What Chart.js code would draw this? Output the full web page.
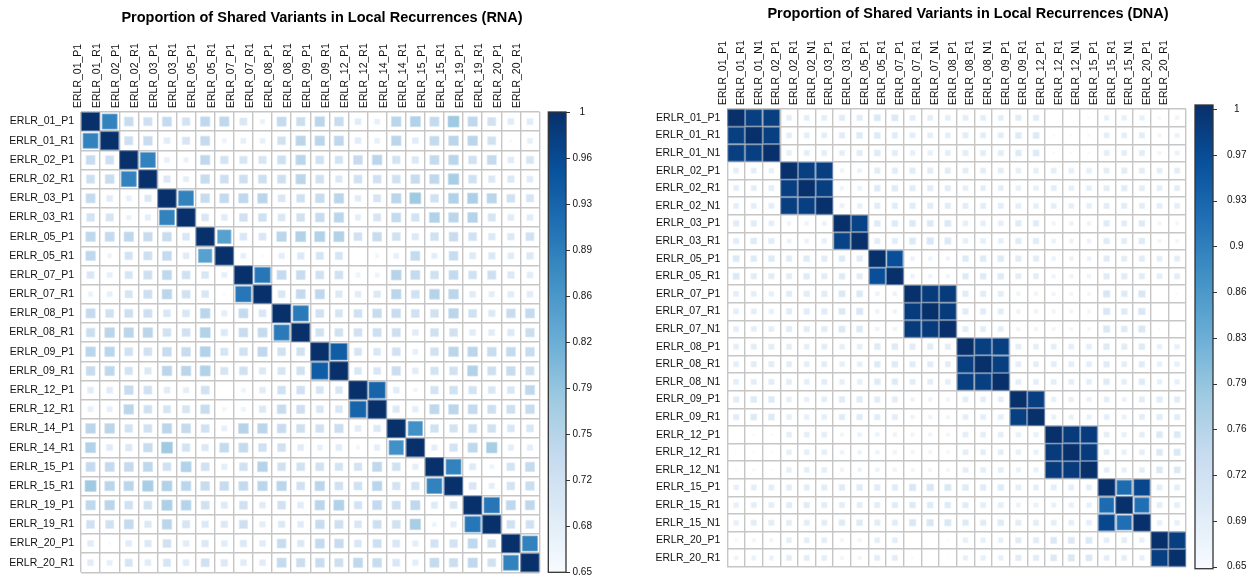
<!DOCTYPE html>
<html><head><meta charset="utf-8">
<script src="https://cdn.jsdelivr.net/npm/chart.js@4.4.1/dist/chart.umd.min.js"></script>
<style>
html,body{margin:0;padding:0;background:#fff;}
#wrap{position:relative;width:1253px;height:578px;overflow:hidden;background:#fff;}
canvas{position:absolute;top:0;}
</style></head><body>
<div id="wrap">
<canvas id="rna" width="626" height="578" style="left:0px;width:626px;height:578px"></canvas>
<canvas id="dna" width="627" height="578" style="left:626px;width:627px;height:578px"></canvas>
</div>
<script>
// ---------------- DATA ----------------
const rnaTitle = "Proportion of Shared Variants in Local Recurrences (RNA)";
const dnaTitle = "Proportion of Shared Variants in Local Recurrences (DNA)";

const rnaLabels = ["ERLR_01_P1","ERLR_01_R1","ERLR_02_P1","ERLR_02_R1","ERLR_03_P1","ERLR_03_R1","ERLR_05_P1","ERLR_05_R1","ERLR_07_P1","ERLR_07_R1","ERLR_08_P1","ERLR_08_R1","ERLR_09_P1","ERLR_09_R1","ERLR_12_P1","ERLR_12_R1","ERLR_14_P1","ERLR_14_R1","ERLR_15_P1","ERLR_15_R1","ERLR_19_P1","ERLR_19_R1","ERLR_20_P1","ERLR_20_R1"];

const dnaLabels = ["ERLR_01_P1","ERLR_01_R1","ERLR_01_N1","ERLR_02_P1","ERLR_02_R1","ERLR_02_N1","ERLR_03_P1","ERLR_03_R1","ERLR_05_P1","ERLR_05_R1","ERLR_07_P1","ERLR_07_R1","ERLR_07_N1","ERLR_08_P1","ERLR_08_R1","ERLR_08_N1","ERLR_09_P1","ERLR_09_R1","ERLR_12_P1","ERLR_12_R1","ERLR_12_N1","ERLR_15_P1","ERLR_15_R1","ERLR_15_N1","ERLR_20_P1","ERLR_20_R1"];

const rnaValues = [
[1,.89,.735,.725,.74,.715,.745,.745,.705,.675,.74,.73,.75,.735,.69,.68,.75,.76,.74,.78,.745,.72,.69,.69],
[.89,1,.725,.735,.69,.71,.74,.67,.68,.68,.72,.75,.75,.745,.69,.68,.75,.69,.74,.75,.75,.72,.656,.68],
[.735,.725,1,.89,.68,.675,.745,.715,.71,.71,.725,.75,.72,.715,.735,.75,.715,.70,.74,.75,.72,.74,.69,.71],
[.725,.735,.89,1,.70,.685,.735,.725,.725,.725,.725,.75,.72,.70,.72,.72,.72,.735,.745,.77,.72,.70,.70,.69],
[.74,.69,.68,.70,1,.89,.735,.74,.745,.75,.705,.72,.735,.75,.69,.71,.75,.78,.72,.76,.765,.75,.72,.71],
[.715,.71,.675,.685,.89,1,.705,.69,.72,.72,.705,.72,.735,.75,.685,.71,.74,.715,.76,.75,.755,.71,.69,.69],
[.745,.74,.745,.735,.735,.705,1,.845,.705,.705,.75,.76,.76,.76,.72,.735,.72,.70,.72,.735,.72,.70,.70,.72],
[.745,.67,.715,.725,.74,.69,.845,1,.68,.655,.685,.70,.71,.71,.65,.665,.68,.74,.685,.735,.695,.70,.69,.70],
[.705,.68,.71,.725,.745,.72,.705,.68,1,.905,.74,.735,.72,.72,.67,.67,.755,.74,.72,.74,.72,.725,.70,.69],
[.675,.68,.71,.725,.75,.72,.705,.655,.905,1,.705,.74,.745,.70,.69,.70,.75,.72,.755,.75,.69,.685,.69,.69],
[.74,.72,.725,.725,.705,.705,.75,.685,.74,.705,1,.90,.72,.71,.72,.735,.735,.72,.72,.75,.72,.70,.735,.74],
[.73,.75,.75,.75,.72,.72,.76,.70,.735,.74,.90,1,.72,.72,.72,.725,.725,.69,.72,.72,.69,.69,.70,.73],
[.75,.75,.72,.72,.735,.735,.76,.71,.72,.745,.72,.72,1,.94,.71,.705,.72,.68,.72,.75,.75,.735,.74,.735],
[.735,.745,.715,.70,.75,.75,.76,.71,.72,.70,.71,.72,.94,1,.705,.705,.73,.69,.715,.72,.76,.725,.735,.725],
[.69,.69,.735,.72,.69,.685,.72,.65,.67,.69,.72,.72,.71,.705,1,.93,.69,.665,.715,.72,.715,.705,.705,.745],
[.68,.68,.75,.72,.71,.71,.735,.665,.67,.70,.735,.725,.705,.705,.93,1,.70,.685,.745,.75,.74,.725,.725,.735],
[.75,.75,.715,.72,.75,.74,.72,.68,.755,.75,.735,.725,.72,.73,.69,.70,1,.87,.72,.715,.725,.72,.705,.705],
[.76,.69,.70,.735,.78,.715,.70,.74,.74,.72,.72,.69,.68,.69,.665,.685,.87,1,.685,.715,.745,.77,.685,.685],
[.74,.74,.74,.745,.72,.76,.72,.685,.72,.755,.72,.72,.72,.715,.715,.745,.72,.685,1,.89,.695,.67,.715,.74],
[.78,.75,.75,.77,.76,.75,.735,.735,.74,.75,.75,.72,.75,.72,.72,.75,.715,.715,.89,1,.705,.685,.715,.73],
[.745,.75,.72,.72,.765,.755,.72,.695,.72,.69,.72,.69,.75,.76,.715,.74,.725,.745,.695,.705,1,.905,.745,.745],
[.72,.72,.74,.70,.75,.71,.70,.70,.725,.685,.70,.69,.735,.725,.705,.725,.72,.77,.67,.685,.905,1,.72,.72],
[.69,.656,.69,.70,.72,.69,.70,.69,.70,.69,.735,.70,.74,.735,.705,.725,.705,.685,.715,.715,.745,.72,1,.89],
[.69,.68,.71,.69,.71,.69,.72,.70,.69,.69,.74,.73,.735,.725,.745,.735,.705,.685,.74,.73,.745,.72,.89,1]
];

const dnaValues = [
[1,.98,.98,.685,.685,.685,.69,.69,.70,.70,.685,.685,.685,.685,.685,.685,.69,.69,.65,.652,.655,.68,.68,.68,.66,.67],
[.98,1,.98,.685,.685,.685,.69,.695,.695,.69,.685,.685,.685,.687,.687,.687,.695,.697,.655,.655,.657,.685,.685,.687,.665,.675],
[.98,.98,1,.68,.685,.685,.685,.69,.695,.69,.68,.68,.685,.687,.687,.687,.695,.697,.655,.655,.655,.685,.685,.687,.665,.675],
[.685,.685,.68,1,.98,.98,.67,.675,.69,.69,.69,.69,.69,.687,.687,.687,.683,.683,.685,.683,.683,.687,.69,.687,.685,.687],
[.685,.685,.685,.98,1,.98,.67,.675,.695,.695,.69,.69,.69,.683,.685,.685,.68,.68,.685,.683,.683,.687,.692,.687,.685,.687],
[.685,.685,.685,.98,.98,1,.675,.68,.69,.69,.69,.69,.69,.687,.687,.687,.685,.683,.685,.683,.683,.687,.687,.687,.685,.685],
[.69,.69,.685,.67,.67,.675,1,.975,.695,.695,.70,.70,.70,.683,.683,.683,.692,.692,.667,.672,.67,.692,.687,.695,.665,.665],
[.69,.695,.69,.675,.675,.68,.975,1,.69,.69,.70,.705,.70,.683,.683,.683,.692,.692,.675,.672,.672,.692,.687,.695,.665,.665],
[.70,.695,.695,.69,.695,.69,.695,.69,1,.96,.672,.67,.67,.695,.695,.695,.69,.69,.672,.672,.672,.692,.687,.69,.685,.687],
[.70,.69,.69,.69,.695,.69,.695,.69,.96,1,.672,.67,.67,.695,.695,.695,.687,.687,.67,.67,.67,.692,.692,.69,.685,.687],
[.685,.685,.68,.69,.69,.69,.70,.70,.672,.672,1,.985,.985,.69,.69,.687,.67,.67,.667,.665,.665,.705,.695,.705,.65,.655],
[.685,.685,.68,.69,.69,.69,.70,.705,.67,.67,.985,1,.985,.69,.69,.687,.67,.67,.667,.665,.665,.705,.695,.705,.65,.65],
[.685,.685,.685,.69,.69,.69,.70,.70,.67,.67,.985,.985,1,.687,.687,.685,.667,.667,.665,.663,.663,.702,.695,.702,.655,.652],
[.685,.687,.687,.687,.683,.687,.683,.683,.695,.695,.69,.69,.687,1,.98,.98,.685,.685,.685,.685,.685,.695,.69,.695,.68,.68],
[.685,.687,.687,.687,.685,.687,.683,.683,.695,.695,.69,.69,.687,.98,1,.98,.685,.685,.685,.685,.685,.692,.685,.692,.68,.68],
[.685,.687,.687,.687,.685,.687,.683,.683,.695,.695,.687,.687,.685,.98,.98,1,.685,.685,.685,.685,.685,.695,.685,.695,.68,.68],
[.69,.695,.695,.683,.68,.685,.692,.692,.69,.687,.67,.67,.667,.685,.685,.685,1,.98,.68,.68,.678,.685,.675,.687,.69,.69],
[.69,.697,.697,.683,.68,.683,.692,.692,.69,.687,.67,.67,.667,.685,.685,.685,.98,1,.678,.678,.678,.685,.675,.687,.69,.69],
[.65,.655,.655,.685,.685,.685,.667,.675,.672,.67,.667,.667,.665,.685,.685,.685,.68,.678,1,.985,.985,.685,.678,.685,.70,.70],
[.652,.655,.655,.683,.683,.683,.672,.672,.672,.67,.665,.665,.663,.685,.685,.685,.68,.678,.985,1,.985,.685,.68,.685,.70,.703],
[.655,.657,.655,.683,.683,.683,.67,.672,.672,.67,.665,.665,.663,.685,.685,.685,.678,.678,.985,.985,1,.685,.68,.685,.70,.70],
[.68,.685,.685,.687,.687,.687,.692,.692,.692,.692,.705,.705,.702,.695,.692,.695,.685,.685,.685,.685,.685,1,.92,.97,.685,.685],
[.68,.685,.685,.69,.692,.687,.687,.687,.687,.692,.695,.695,.695,.69,.685,.685,.675,.675,.678,.68,.68,.92,1,.915,.685,.685],
[.68,.687,.687,.687,.687,.687,.695,.695,.69,.69,.705,.705,.702,.695,.692,.695,.687,.687,.685,.685,.685,.97,.915,1,.68,.68],
[.66,.665,.665,.685,.685,.685,.665,.665,.685,.685,.65,.65,.655,.68,.68,.68,.69,.69,.70,.70,.70,.685,.685,.68,1,.98],
[.67,.675,.675,.687,.687,.685,.665,.665,.687,.687,.655,.65,.652,.68,.68,.68,.69,.69,.70,.703,.70,.685,.685,.68,.98,1]
];

const colorMin = 0.65, colorMax = 1;
const rnaScaleTicks = [0.65,0.685,0.72,0.755,0.79,0.825,0.86,0.895,0.93,0.965,1];
const rnaScaleLabels = ["0.65","0.68","0.72","0.75","0.79","0.82","0.86","0.89","0.93","0.96","1"];
const dnaScaleTicks = [0.65,0.685,0.72,0.755,0.79,0.825,0.86,0.895,0.93,0.965,1];
const dnaScaleLabels = ["0.65","0.69","0.72","0.76","0.79","0.83","0.86","0.9","0.93","0.97","1"];

// ---------------- STYLE ----------------
const FONT = '"Liberation Sans", Arial, Helvetica, sans-serif';
const BLUES = ["#F7FBFF","#DEEBF7","#C6DBEF","#9ECAE1","#6BAED6","#4292C6","#2171B5","#08519C","#08306B"];
const GRID = '#c6c6c6';
Chart.defaults.font.family = FONT;

function hexRgb(h){return [parseInt(h.slice(1,3),16),parseInt(h.slice(3,5),16),parseInt(h.slice(5,7),16)];}
const BLUES_RGB = BLUES.map(hexRgb);
function tOf(v){return Math.max(0,Math.min(1,(v-colorMin)/(colorMax-colorMin)));}
function rgbAt(t){
  const p=t*(BLUES_RGB.length-1); const i=Math.min(Math.floor(p),BLUES_RGB.length-2); const f=p-i;
  const a=BLUES_RGB[i], b=BLUES_RGB[i+1];
  return [0,1,2].map(k=>Math.round(a[k]+(b[k]-a[k])*f));
}
function css(c){return 'rgb('+c[0]+','+c[1]+','+c[2]+')';}
function mixWhite(c,f){return c.map(x=>Math.round(x+(255-x)*f));}

const titlePlugin = {
  id:'panelTitle',
  afterDraw(chart,args,opts){
    const c=chart.ctx; c.save();
    c.font='bold '+opts.size+'px '+FONT; c.fillStyle='#000';
    c.textAlign='center'; c.textBaseline='middle';
    c.fillText(opts.text,opts.x,opts.y); c.restore();
  }
};
const colorbarPlugin = {
  id:'colorbar',
  afterDraw(chart,args,opts){
    const s=chart.scales.cb, c=chart.ctx;
    const x0=s.left+opts.offset, w=opts.width;
    const yTop=s.getPixelForValue(s.max)-opts.extTop, yBot=s.getPixelForValue(s.min)+opts.extBot;
    const g=c.createLinearGradient(0,yBot,0,yTop);
    BLUES.forEach((col,i)=>g.addColorStop(i/(BLUES.length-1),col));
    c.save();
    c.fillStyle=g; c.fillRect(x0,yTop,w,yBot-yTop);
    c.strokeStyle='#333'; c.lineWidth=1.3; c.strokeRect(x0,yTop,w,yBot-yTop);
    c.lineWidth=1;
    s.ticks.forEach(t=>{const y=Math.round(s.getPixelForValue(t.value))+0.5;
      c.beginPath(); c.moveTo(x0+w,y); c.lineTo(x0+w+4,y); c.stroke();});
    c.restore();
  }
};

function noPadV(s){s.paddingTop=0;s.paddingBottom=0;}
function noPadH(s){s.paddingLeft=0;s.paddingRight=0;}

function makePanel(id, labels, values, title, cbTicks, cbLabels, L){
  const pts=[];
  for(let i=0;i<labels.length;i++) for(let j=0;j<labels.length;j++)
    pts.push({x:labels[j], y:labels[i], v:values[i][j]});
  const n=labels.length;
  const radius = ctx=>{
    if(!ctx.raw) return 0;
    const ch=ctx.chart; const cell=Math.min(ch.scales.x.width, ch.scales.y.height)/n;
    return Math.sqrt(tOf(ctx.raw.v))*cell*0.95/Math.SQRT2;
  };
  const tickFont={family:FONT,size:10.5};
  new Chart(document.getElementById(id),{
    type:'scatter',
    data:{datasets:[{
      data:pts, pointStyle:'rect',
      pointRadius:radius, pointHoverRadius:radius,
      pointBackgroundColor:ctx=>ctx.raw?css(rgbAt(tOf(ctx.raw.v))):'#fff',
      pointBorderColor:ctx=>ctx.raw?css(mixWhite(rgbAt(tOf(ctx.raw.v)),0.35)):'#fff',
      pointBorderWidth:0.8
    }]},
    plugins:[titlePlugin,colorbarPlugin],
    options:{
      responsive:false, animation:false, devicePixelRatio:1, events:[],
      layout:{padding:{left:0,right:0,top:0,bottom:L.padBottom}},
      plugins:{legend:{display:false},tooltip:{enabled:false},title:{display:false},
        panelTitle:{text:title,x:L.titleX,y:L.titleY,size:14.5},
        colorbar:{offset:L.cbOffset,width:L.cbWidth,extTop:L.cbExtTop,extBot:L.cbExtBot}},
      scales:{
        x:{type:'category',labels:labels,position:'top',offset:true,
          grid:{offset:true,color:GRID,lineWidth:1.4,drawTicks:false},
          border:{display:false},
          ticks:{autoSkip:false,minRotation:90,maxRotation:90,padding:4,color:'#111',font:tickFont},
          afterFit:s=>{s.height=L.xAxisH;noPadH(s);}},
        y:{type:'category',labels:labels,position:'left',offset:true,
          grid:{offset:true,color:GRID,lineWidth:1.4,drawTicks:false},
          border:{display:false},
          ticks:{autoSkip:false,padding:7,color:'#111',font:tickFont},
          afterFit:s=>{s.width=L.yAxisW;noPadV(s);}},
        cb:{type:'linear',position:'right',min:colorMin,max:colorMax,
          grid:{display:false,drawTicks:false,drawOnChartArea:false},
          border:{display:false},
          afterBuildTicks:s=>{s.ticks=cbTicks.map(v=>({value:v}));},
          ticks:{autoSkip:false,padding:L.cbTextPad,crossAlign:'center',color:'#111',
            font:{family:FONT,size:10},callback:(v,i)=>cbLabels[i]},
          afterFit:s=>{s.width=L.cbAxisW;noPadV(s);}}
      }
    }
  });
}

makePanel('rna', rnaLabels, rnaValues, rnaTitle, rnaScaleTicks, rnaScaleLabels,
  {yAxisW:81, xAxisH:112, padBottom:5.7, cbAxisW:86.5, cbOffset:8.8, cbWidth:17.7,
   cbTextPad:33, cbExtTop:0, cbExtBot:0, titleX:322, titleY:18});
makePanel('dna', dnaLabels, dnaValues, dnaTitle, dnaScaleTicks, dnaScaleLabels,
  {yAxisW:101.3, xAxisH:109, padBottom:11.3, cbAxisW:67, cbOffset:9, cbWidth:18,
   cbTextPad:41, cbExtTop:4, cbExtBot:2, titleX:342, titleY:14});
</script>
</body></html>
